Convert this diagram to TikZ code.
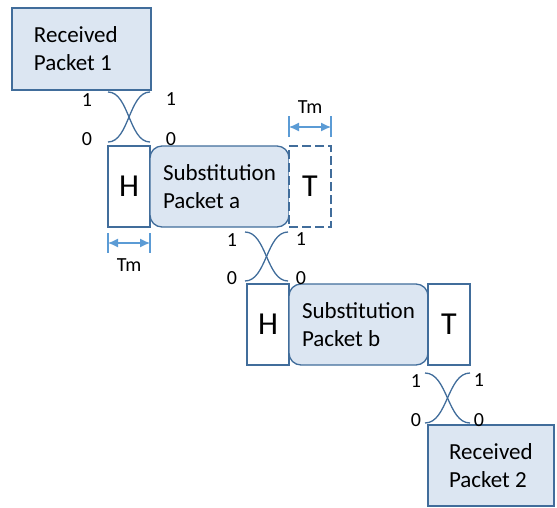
\documentclass[tikz,border=0pt]{standalone}
\usepackage{fontspec}
\setmainfont{Carlito}
\usepackage{tikz}
\usetikzlibrary{arrows.meta,positioning,calc}
\definecolor{edgeC}{RGB}{65,109,155}
\definecolor{fillC}{RGB}{220,230,242}
\definecolor{dimC}{RGB}{91,155,213}
\tikzset{
  pkt/.style={rectangle, draw=edgeC, line width=1.3pt, fill=fillC, align=flush left, outer sep=0pt,
              font=\fontsize{23}{28}\selectfont, minimum height=82pt, inner sep=0pt},
  subbox/.style={pkt, rounded corners=12pt, minimum width=139pt, minimum height=81pt},
  hdr/.style={rectangle, draw=edgeC, line width=1.3pt, fill=white, inner sep=0pt, outer sep=0pt,
              font=\fontsize{32}{32}\selectfont, minimum width=42pt, minimum height=81pt},
  bit/.style={font=\fontsize{20}{20}\selectfont, inner sep=0pt},
  swapln/.style={draw=edgeC, line width=1.3pt},
  dimarr/.style={{Latex[length=10pt,width=9pt]}-{Latex[length=10pt,width=9pt]}, line width=1.2pt, draw=dimC},
  dimtick/.style={line width=1.2pt, draw=dimC},
}
% crossing of the bit lines: name, top-left, bottom-right, label gap
\newcommand{\bitswap}[4]{%
  \coordinate (#1tl) at #2;
  \coordinate (#1br) at #3;
  \coordinate (#1tr) at (#1br |- #1tl);
  \coordinate (#1bl) at (#1tl |- #1br);
  \coordinate (#1tm) at ($(#1tl)!0.5!(#1tr)$);
  \coordinate (#1bm) at ($(#1bl)!0.5!(#1br)$);
  \draw[swapln] (#1tl) .. controls (#1tm) and (#1bm) .. (#1br);
  \draw[swapln] (#1tr) .. controls (#1tm) and (#1bm) .. (#1bl);
  \node[bit] (#1lone) at ($(#1tl)+(-#4,8)$) {1};
  \node[bit] (#1lzero) at ($(#1bl)+(-#4,-3)$) {0};
  \node[bit] (#1rone) at ($(#1tr)+(#4,7)$) {1};
  \node[bit] (#1rzero) at ($(#1br)+(#4,-3)$) {0};
}

\begin{document}
\begin{tikzpicture}[x=1pt, y=-1pt]
  \useasboundingbox (0,0) rectangle (557,507);
  % received packets
  \node[pkt, minimum width=139pt, text width=95pt, inner xsep=22pt, anchor=north west] (rp1) at (12,8) {Received\\Packet 1};
  \node[pkt, minimum width=126pt, minimum height=81pt, text width=84pt, inner xsep=21pt, anchor=north west] (rp2) at (428,425) {Received\\Packet 2};
  % substitution packet a
  \node[hdr, anchor=north west] (ha) at (108,146) {H};
  \node[subbox, right=0pt of ha] (sa) {Substitution\\Packet a};
  \node[hdr, dash pattern=on 9pt off 4pt, right=0pt of sa] (ta) {T};
  % substitution packet b
  \node[hdr, anchor=north west] (hb) at (247,284) {H};
  \node[subbox, right=0pt of hb] (sb) {Substitution\\Packet b};
  \node[hdr, right=0pt of sb] (tb) {T};
  % bit crossings
  \bitswap{xa}{($(ha.north west)+(0,-54)$)}{($(ha.north east)+(0,-4)$)}{21}
  \bitswap{xb}{($(hb.north west)+(-2,-52)$)}{($(hb.north east)+(-1,-3)$)}{13}
  \bitswap{xc}{($(tb.south west)+(-3,8)$)}{($(tb.south east)+(0,58)$)}{9}
  % Tm marks
  \draw[dimtick] ($(ta.north west)+(0,-9)$) -- ++(0,-21);
  \draw[dimtick] ($(ta.north east)+(0,-9)$) -- ++(0,-21);
  \coordinate (tmal) at ($(ta.north west)+(0,-19)$);
  \coordinate (tmar) at ($(ta.north east)+(0,-19)$);
  \draw[dimarr] (tmal) -- (tmar) node[bit, midway, above=13pt] (tma) {Tm};
  \draw[dimtick] ($(ha.south west)+(0,6)$) -- ++(0,20);
  \draw[dimtick] ($(ha.south east)+(0,6)$) -- ++(0,20);
  \coordinate (tmbl) at ($(ha.south west)+(0,16)$);
  \coordinate (tmbr) at ($(ha.south east)+(0,16)$);
  \draw[dimarr] (tmbl) -- (tmbr) node[bit, midway, below=15pt] (tmb) {Tm};
\end{tikzpicture}
\end{document}
